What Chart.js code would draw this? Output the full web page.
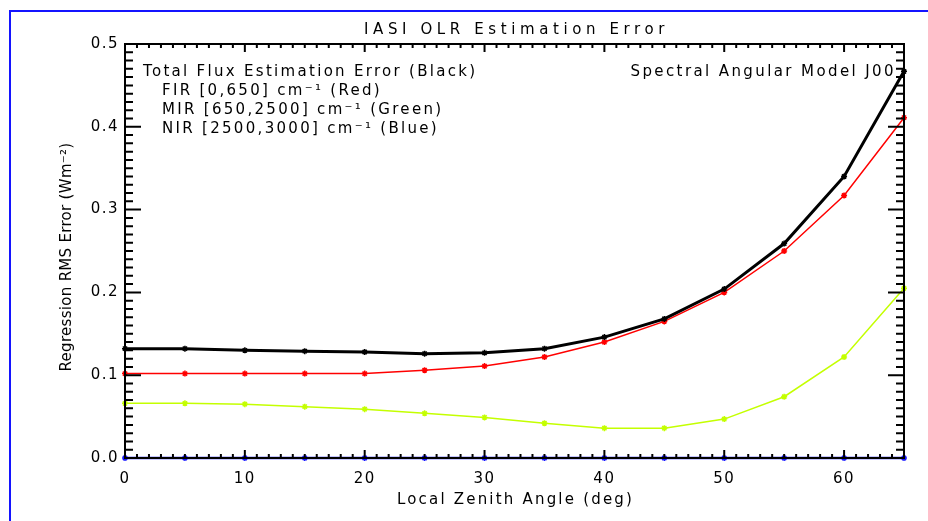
<!DOCTYPE html>
<html>
<head>
<meta charset="utf-8">
<script src="https://cdn.jsdelivr.net/npm/chart.js@4/dist/chart.umd.min.js"></script>
<style>
  html, body { margin: 0; padding: 0; background: #fff; }
  #wrap { width: 928px; height: 521px; }
</style>
</head>
<body>
<div id="wrap"><canvas id="olrChart"></canvas></div>
<script>
// zenith angles (deg)
const angles = [0, 5, 10, 15, 20, 25, 30, 35, 40, 45, 50, 55, 60, 65];

// RMS errors (W m-2)
const totalErr = [0.132, 0.132, 0.130, 0.129, 0.128, 0.126, 0.127, 0.132, 0.146, 0.168, 0.204, 0.259, 0.340, 0.467];
const firErr   = [0.102, 0.102, 0.102, 0.102, 0.102, 0.106, 0.111, 0.122, 0.140, 0.165, 0.200, 0.250, 0.317, 0.411];
const mirErr   = [0.066, 0.066, 0.065, 0.062, 0.059, 0.054, 0.049, 0.042, 0.036, 0.036, 0.047, 0.074, 0.122, 0.205];
const nirErr   = [0, 0, 0, 0, 0, 0, 0, 0, 0, 0, 0, 0, 0, 0];

const xTicks = [0, 10, 20, 30, 40, 50, 60];
const yTicks = [0.0, 0.1, 0.2, 0.3, 0.4, 0.5];

const chartTitle = 'IASI OLR Estimation Error';
const xTitle = 'Local Zenith Angle (deg)';
const yTitle = 'Regression RMS Error (Wm\u207B\u00B2)';
const noteLines = [
  'Total Flux Estimation Error (Black)',
  'FIR [0,650] cm\u207B\u00B9 (Red)',
  'MIR [650,2500] cm\u207B\u00B9 (Green)',
  'NIR [2500,3000] cm\u207B\u00B9 (Blue)'
];
const modelNote = 'Spectral Angular Model J00';

const FONT = '15px "DejaVu Sans"';

function pts(ys) {
  return angles.map((a, i) => ({ x: a, y: ys[i] }));
}

function series(label, ys, color, width) {
  return {
    label: label,
    data: pts(ys),
    borderColor: color,
    backgroundColor: color,
    borderWidth: width,
    pointStyle: 'star',
    pointRadius: 3,
    pointBorderWidth: 1.5,
    pointBorderColor: color,
    tension: 0,
    clip: false
  };
}

// frame, inward ticks and text (IDL style)
const idlDecor = {
  id: 'idlDecor',
  beforeDraw(chart) {
    chart.ctx.letterSpacing = '1.5px';
  },
  afterDraw(chart) {
    const ctx = chart.ctx;
    const a = chart.chartArea;
    const xs = chart.scales.x, ys = chart.scales.y;
    ctx.save();

    // blue page frame
    ctx.fillStyle = '#1414ff';
    ctx.fillRect(9, 10, 2, 511);
    ctx.fillRect(9, 10, 919, 2);

    // axis box + inward ticks (2px, like the IDL plot)
    ctx.strokeStyle = '#000';
    ctx.lineWidth = 2;
    ctx.lineCap = 'butt';
    ctx.beginPath();
    ctx.rect(a.left, a.top, a.right - a.left, a.bottom - a.top);
    for (let v = 0; v <= 65; v++) {
      const px = xs.getPixelForValue(v);
      const len = v % 10 === 0 ? 8 : 4;
      ctx.moveTo(px, a.bottom); ctx.lineTo(px, a.bottom - len);
      ctx.moveTo(px, a.top); ctx.lineTo(px, a.top + len);
    }
    for (let k = 0; k <= 50; k++) {
      const py = ys.getPixelForValue(k / 100);
      const len = k % 10 === 0 ? 16 : 8;
      ctx.moveTo(a.left, py); ctx.lineTo(a.left + len, py);
      ctx.moveTo(a.right, py); ctx.lineTo(a.right - len, py);
    }
    ctx.stroke();

    ctx.fillStyle = '#000';
    ctx.font = FONT;
    ctx.textBaseline = 'alphabetic';

    // title
    ctx.letterSpacing = '4.6px';
    ctx.textAlign = 'center';
    ctx.fillText(chartTitle, (a.left + a.right) / 2 + 2, 34);

    // x axis title
    ctx.letterSpacing = '2.2px';
    ctx.fillText(xTitle, (a.left + a.right) / 2 + 1, 504);

    // y axis title
    ctx.save();
    ctx.translate(71, (a.top + a.bottom) / 2 + 6);
    ctx.rotate(-Math.PI / 2);
    ctx.letterSpacing = '0.3px';
    ctx.fillText(yTitle, 0, 0);
    ctx.restore();

    // notes
    ctx.letterSpacing = '2.3px';
    ctx.textAlign = 'left';
    ctx.fillText(noteLines[0], 143, 76);
    ctx.fillText(noteLines[1], 162, 95);
    ctx.fillText(noteLines[2], 162, 114);
    ctx.fillText(noteLines[3], 162, 133);

    ctx.letterSpacing = '2.4px';
    ctx.textAlign = 'right';
    ctx.fillText(modelNote, 896, 76);

    ctx.restore();
  }
};

Chart.defaults.font.family = '"DejaVu Sans"';
Chart.defaults.font.size = 15;
Chart.defaults.color = '#000';

new Chart(document.getElementById('olrChart'), {
  type: 'line',
  data: {
    datasets: [
      series('Total', totalErr, '#000000', 3),
      series('FIR', firErr, '#ff0000', 1.5),
      series('MIR', mirErr, '#c4ff00', 1.5),
      series('NIR', nirErr, '#1a1aff', 2.5)
    ]
  },
  options: {
    responsive: true,
    maintainAspectRatio: false,
    animation: false,
    layout: { padding: { top: 44, right: 24, left: 0, bottom: 0 } },
    plugins: {
      legend: { display: false },
      title: { display: false },
      tooltip: { enabled: false }
    },
    scales: {
      x: {
        type: 'linear',
        min: 0,
        max: 65,
        grid: { display: false, drawTicks: false },
        border: { display: false },
        afterBuildTicks: s => { s.ticks = xTicks.map(v => ({ value: v })); },
        afterFit: s => { s.height = 63; },
        ticks: {
          padding: 12,
          maxRotation: 0,
          callback: v => String(v)
        }
      },
      y: {
        type: 'linear',
        min: 0,
        max: 0.5,
        grid: { display: false, drawTicks: false },
        border: { display: false },
        afterBuildTicks: s => { s.ticks = yTicks.map(v => ({ value: v })); },
        afterFit: s => { s.width = 125; },
        ticks: {
          padding: 6,
          callback: v => v.toFixed(1)
        }
      }
    }
  },
  plugins: [idlDecor]
});
</script>
</body>
</html>
